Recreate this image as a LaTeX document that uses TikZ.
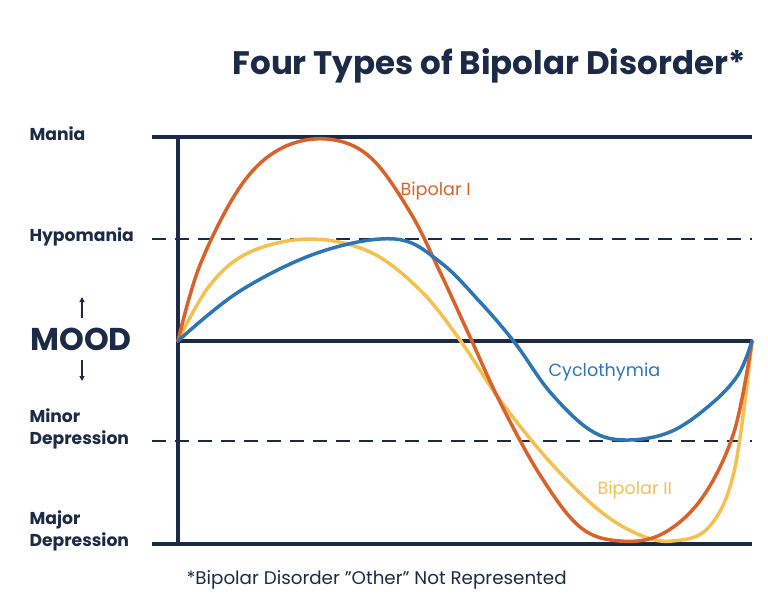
\documentclass[tikz,border=0pt]{standalone}
\usepackage{fontspec}
\setmainfont{Poppins}
\usetikzlibrary{arrows.meta}
\definecolor{navy}{HTML}{1B2A47}
\definecolor{bpone}{HTML}{D9622B}
\definecolor{bptwo}{HTML}{F5C052}
\definecolor{cyclo}{HTML}{2E75B6}
\begin{document}
\begin{tikzpicture}[x=1pt,y=-1pt,
  axis/.style={navy,line width=3.5pt},
  dash line/.style={navy,line width=2pt,dash pattern=on 14pt off 9pt},
  curve/.style={line width=3.5pt,line cap=round},
  lab/.style={navy,font=\fontsize{17.2}{22}\selectfont\bfseries,anchor=west,align=left},
  clab/.style={font=\fontsize{17.6}{20}\selectfont,anchor=west}]
\useasboundingbox (0,0) rectangle (768,608);
\node[navy,font=\fontsize{32.5}{36}\selectfont\bfseries,anchor=east] (title) at (749,66) {Four Types of Bipolar Disorder*};
\draw[dash line] (152,239) -- (752,239);
\draw[dash line] (152,441) -- (752,441);
\draw[axis] (152,137) -- (752,137);
\draw[axis] (178,341) -- (752,341);
\draw[axis] (152,544) -- (752,544);
\draw[axis] (178,137) -- (178,544);
\draw[curve,bptwo] plot[smooth,tension=0.6] coordinates {(178,341)(210,285)(250,252)(310,239)(370,252)(420,290)(460,340)(500,400)(550,462)(600,511)(640,535)(672,541)(708,528)(734,472)(752,341)};
\draw[curve,bpone] plot[smooth,tension=0.6] coordinates {(178,341)(200,265)(240,187)(280,149)(327,139)(370,157)(410,212)(440,272)(470,337)(500,402)(540,475)(580,527)(620,541)(662,534)(702,498)(734,432)(752,341)};
\draw[curve,cyclo] plot[smooth,tension=0.6] coordinates {(178,341)(240,291)(320,252)(395,239)(440,262)(480,302)(515,343)(550,392)(590,430)(625,440)(670,432)(710,405)(738,375)(752,341)};
\node[clab,bpone] (b1) at (397,191) {Bipolar I};
\node[clab,cyclo] (cy) at (545,372) {Cyclothymia};
\node[clab,bptwo] (b2) at (594,490) {Bipolar II};
\node[lab] (mania) at (26,134) {Mania};
\node[lab] (hypo) at (26,237) {Hypomania};
\node[navy,font=\fontsize{31.5}{34}\selectfont\bfseries] (mood) at (81,339) {MOOD};
\draw[navy,line width=1.5pt,-{Triangle[length=5pt,width=5pt]}] (82,318) -- (82,297);
\draw[navy,line width=1.5pt,-{Triangle[length=5pt,width=5pt]}] (82,360) -- (82,381);
\node[lab] (minor) at (26,429) {Minor\\Depression};
\node[lab] (major) at (26,531) {Major\\Depression};
\node[navy,font=\fontsize{18.3}{21}\selectfont,anchor=west] (foot) at (183,580) {*Bipolar Disorder "Other" Not Represented};
\end{tikzpicture}
\end{document}
